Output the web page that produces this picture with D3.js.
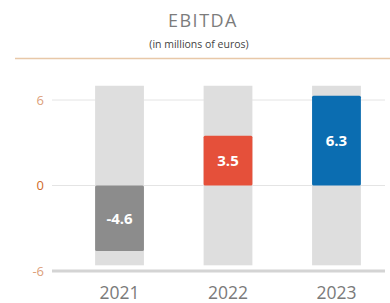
<!DOCTYPE html>
<html>
<head>
<meta charset="utf-8">
<script src="https://cdn.jsdelivr.net/npm/d3@7"></script>
<style>
body { margin: 0; background: #fff; }
svg { display: block; font-family: "Open Sans", "DejaVu Sans", sans-serif; }
</style>
</head>
<body>
<svg id="chart" width="390" height="303"></svg>
<script>
// data
var years = ["2021", "2022", "2023"];
var ebitda = [-4.6, 3.5, 6.3];
var barColors = ["#8c8c8c", "#e5503a", "#0b6db1"];
var yTicks = [-6, 0, 6];
var bgTop = 7, bgBottom = -5.6;

var svg = d3.select("#chart");

// titles
svg.append("text")
	.attr("x", 203).attr("y", 27)
	.attr("text-anchor", "middle")
	.attr("font-size", "18px")
	.attr("letter-spacing", "1.5px")
	.attr("fill", "#7c7c7c")
	.text("EBITDA");
svg.append("text")
	.attr("x", 199).attr("y", 48)
	.attr("text-anchor", "middle")
	.attr("font-size", "10.5px")
	.attr("fill", "#444")
	.text("(in millions of euros)");
svg.append("line")
	.attr("x1", 15).attr("x2", 390)
	.attr("y1", 58.5).attr("y2", 58.5)
	.attr("stroke", "#e8c8a8")
	.attr("stroke-width", 1.5);

var x = d3.scaleBand().domain(years).range([68, 388]).paddingInner(0.55).paddingOuter(0.25);
var y = d3.scaleLinear().domain([-6, 6]).range([271, 100]);

// gridlines
svg.selectAll(".grid")
	.data(yTicks)
	.enter().append("line")
	.attr("x1", 52).attr("x2", 385)
	.attr("y1", function(d) { return y(d); })
	.attr("y2", function(d) { return y(d); })
	.attr("stroke", function(d) { return d == -6 ? "#d4d4d4" : "#e4e4e4"; })
	.attr("stroke-width", function(d) { return d == -6 ? 3 : 1; });

// tick labels
svg.selectAll(".tick")
	.data(yTicks)
	.enter().append("text")
	.attr("x", 44)
	.attr("y", function(d) { return y(d); })
	.attr("dy", "0.35em")
	.attr("text-anchor", "end")
	.attr("font-size", "13px")
	.attr("fill", function(d) { return d == 0 ? "#d06a2a" : "#dca07a"; })
	.text(function(d) { return d; });

// grey background bars
svg.selectAll(".bg")
	.data(years)
	.enter().append("rect")
	.attr("x", function(d) { return x(d); })
	.attr("width", x.bandwidth())
	.attr("y", y(bgTop))
	.attr("height", y(bgBottom) - y(bgTop))
	.attr("fill", "#dedede");

// value bars
svg.selectAll(".bar")
	.data(ebitda)
	.enter().append("rect")
	.attr("x", function(d, i) { return x(years[i]); })
	.attr("width", x.bandwidth())
	.attr("y", function(d) { return y(Math.max(0, d)); })
	.attr("height", function(d) { return Math.abs(y(d) - y(0)); })
	.attr("rx", 1.5)
	.attr("fill", function(d, i) { return barColors[i]; });

// value labels
svg.selectAll(".val")
	.data(ebitda)
	.enter().append("text")
	.attr("x", function(d, i) { return x(years[i]) + x.bandwidth() / 2; })
	.attr("y", function(d) { return (y(d) + y(0)) / 2; })
	.attr("dy", "0.35em")
	.attr("text-anchor", "middle")
	.attr("font-size", "15px")
	.attr("font-weight", "bold")
	.attr("fill", "#fff")
	.text(function(d) { return d; });

// year labels
svg.selectAll(".year")
	.data(years)
	.enter().append("text")
	.attr("x", function(d) { return x(d) + x.bandwidth() / 2; })
	.attr("y", 299)
	.attr("text-anchor", "middle")
	.attr("font-size", "17.5px")
	.attr("fill", "#7a7a7a")
	.text(function(d) { return d; });
</script>
</body>
</html>
